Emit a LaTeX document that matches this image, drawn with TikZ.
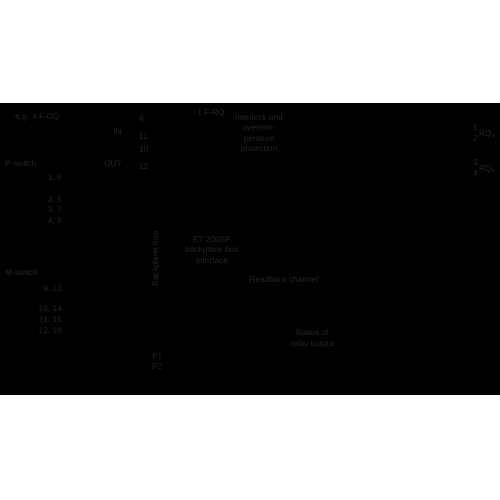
\documentclass[tikz,border=0pt]{standalone}
\usepackage{fontspec}
\setmainfont{Liberation Sans}
\begin{document}
\begin{tikzpicture}[x=1pt,y=-1pt,
  lbl/.style={inner sep=0pt, text=black!86, font=\fontsize{8.3}{10.3}\selectfont},
  lblc/.style={lbl, align=center},
  lblr/.style={lbl, anchor=east},
  lbll/.style={lbl, anchor=west}]
\fill[white] (0,0) rectangle (500,500);
\useasboundingbox (0,0) rectangle (500,500);
\fill[black] (0,103) rectangle (500,395);
% left module
\node[lbll] (eg) at (15,117) {e.g. 4 F-DQ};
\node[lbll] (psw) at (5,164) {P-switch};
\node[lblr] (p15) at (62,178) {1, 5};
\node[lblr] (p26) at (62,200) {2, 6};
\node[lblr] (p37) at (62,210) {3, 7};
\node[lblr] (p48) at (62,221) {4, 8};
\node[lbll] (msw) at (5,273) {M-switch};
\node[lblr] (m913) at (62,289) {9, 13};
\node[lblr] (m1014) at (62,309) {10, 14};
\node[lblr] (m1115) at (62,320) {11, 15};
\node[lblr] (m1216) at (62,331) {12, 16};
\node[lblr] (in) at (122,132) {IN};
\node[lblr] (out) at (122,164) {OUT};
\node[lbll] (t9) at (139,120) {9};
\node[lbll] (t11) at (139,137) {11};
\node[lbll] (t10) at (139,150) {10};
\node[lbll] (t12) at (139,167) {12};
% backplane
\node[lbl, rotate=90] (bpb) at (156,259) {Backplane bus};
\node[lbll] (p1) at (152,357) {P1};
\node[lbll] (p2) at (152,367) {P2};
% F-RQ module
\node[lbl] (frq) at (211,113) {1 F-RQ};
\node[lblc] (ilk) at (259,134) {Interlock and\\overtem-\\perature\\protection};
\node[lblc] (et) at (212,250) {ET 200SP\\backplane bus\\interface};
\node[lbl] (rb) at (284,280) {Readback channel};
\node[lblc] (st) at (312,339) {Status of\\relay output};
% outputs
\node[lbll] (o1) at (473,128) {1};
\node[lbll] (o2) at (473,139) {2};
\node[lbll] (rqa) at (479,134) {RQ\textsubscript{a}};
\node[lbll] (o3) at (473,163) {3};
\node[lbll] (o4) at (473,174) {4};
\node[lbll] (rqb) at (479,169) {RQ\textsubscript{b}};
\end{tikzpicture}
\end{document}
